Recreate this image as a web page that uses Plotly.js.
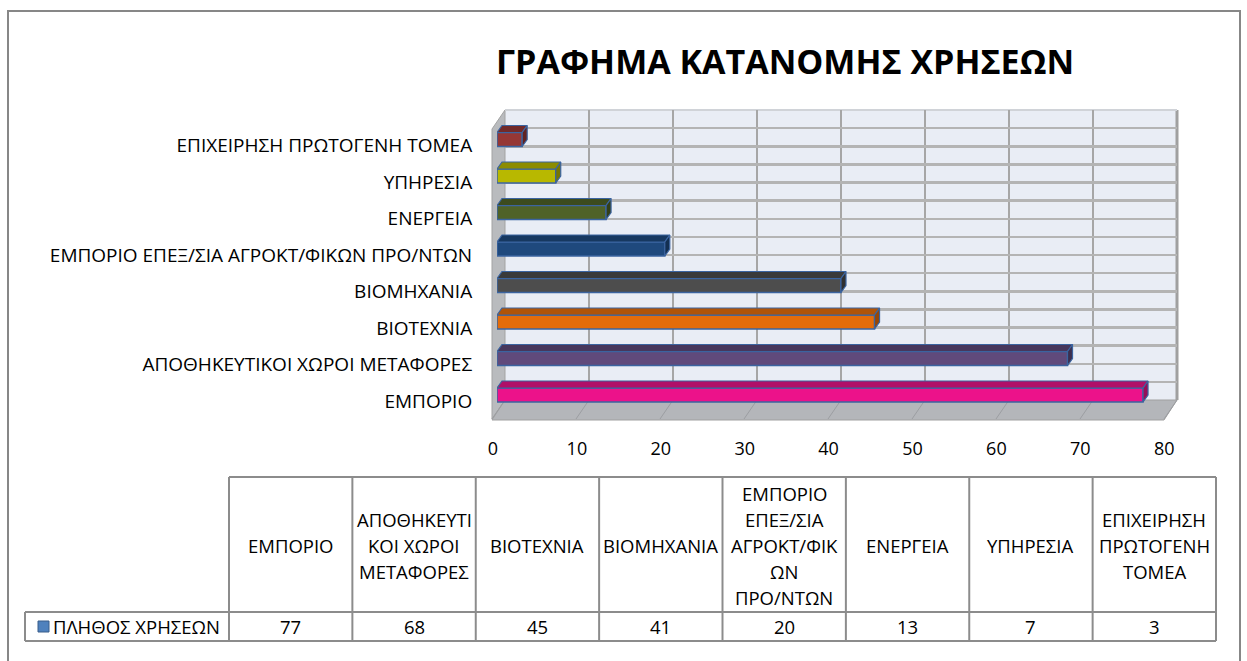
<!DOCTYPE html>
<html>
<head>
<meta charset="utf-8">
<script src="https://cdn.plot.ly/plotly-3.0.1.min.js"></script>
<style>html,body{margin:0;padding:0;background:#fff;}#chart{width:1247px;height:661px;}</style>
</head>
<body>
<div id="chart"></div>
<script>
// ---- data ----
const categories = ['ΕΜΠΟΡΙΟ','ΑΠΟΘΗΚΕΥΤΙΚΟΙ ΧΩΡΟΙ ΜΕΤΑΦΟΡΕΣ','ΒΙΟΤΕΧΝΙΑ','ΒΙΟΜΗΧΑΝΙΑ','ΕΜΠΟΡΙΟ ΕΠΕΞ/ΣΙΑ ΑΓΡΟΚΤ/ΦΙΚΩΝ ΠΡΟ/ΝΤΩΝ','ΕΝΕΡΓΕΙΑ','ΥΠΗΡΕΣΙΑ','ΕΠΙΧΕΙΡΗΣΗ ΠΡΩΤΟΓΕΝΗ ΤΟΜΕΑ'];
const values = [77, 68, 45, 41, 20, 13, 7, 3];
const tableHeaders = ['ΕΜΠΟΡΙΟ','ΑΠΟΘΗΚΕΥΤΙ<br>ΚΟΙ ΧΩΡΟΙ<br>ΜΕΤΑΦΟΡΕΣ','ΒΙΟΤΕΧΝΙΑ','ΒΙΟΜΗΧΑΝΙΑ','ΕΜΠΟΡΙΟ<br>ΕΠΕΞ/ΣΙΑ<br>ΑΓΡΟΚΤ/ΦΙΚ<br>ΩΝ<br>ΠΡΟ/ΝΤΩΝ','ΕΝΕΡΓΕΙΑ','ΥΠΗΡΕΣΙΑ','ΕΠΙΧΕΙΡΗΣΗ<br>ΠΡΩΤΟΓΕΝΗ<br>ΤΟΜΕΑ'];
const seriesName = 'ΠΛΗΘΟΣ ΧΡΗΣΕΩΝ';
const xTicks = [0, 10, 20, 30, 40, 50, 60, 70, 80];
const chartTitle = 'ΓΡΑΦΗΜΑ ΚΑΤΑΝΟΜΗΣ ΧΡΗΣΕΩΝ';

// ---- styles ----
const frontColors = ['#EC128A','#604A7B','#E46C0A','#4D4D4D','#1F497D','#4F6228','#B8B800','#953735'];
const topColors   = ['#B00F68','#47375C','#B05408','#3A3A3A','#173860','#3C4B1E','#8C8C00','#722A29'];
const sideColors  = ['#960D59','#3C2F4F','#964707','#303030','#132F51','#333F19','#777700','#612322'];
const outline = '#3B64A0';
const FONT = 'Open Sans, Liberation Sans, sans-serif';

const W = 1247, H = 661;
const px = v => v / W;
const py = v => 1 - v / H;

// geometry (pixels)
const wall = {l: 505, r: 1177, t: 110, b: 400};
const depth = {dx: -13, dy: 19};
const front0 = 497, unitPx = 8.39;
const catTop = 139.5, catBot = 395;
const catStep = (catBot - catTop) / (categories.length - 1);
const barPx = 14, faceDx = 5, faceDy = 7;

const idx = categories.map((_, i) => i);
const hw = barPx / catStep / 2;
const dxU = faceDx / unitPx;
const dyU = faceDy / catStep;

const traces = [];
// helper trace so the back-wall subplot (gridlines) is drawn
traces.push({type: 'scatter', mode: 'markers', x: [], y: [], xaxis: 'x', yaxis: 'y', hoverinfo: 'skip', showlegend: false});
traces.push({
  type: 'bar', orientation: 'h', x: values, y: idx, width: 2 * hw,
  xaxis: 'x2', yaxis: 'y2',
  marker: {color: frontColors, line: {color: outline, width: 1.5}},
  hoverinfo: 'skip', showlegend: false
});
values.forEach((v, i) => {
  traces.push({
    type: 'scatter', mode: 'lines', fill: 'toself', xaxis: 'x2', yaxis: 'y2',
    x: [0, v, v + dxU, dxU, 0],
    y: [i + hw, i + hw, i + hw + dyU, i + hw + dyU, i + hw],
    fillcolor: topColors[i], line: {color: outline, width: 1.2},
    hoverinfo: 'skip', showlegend: false
  });
  traces.push({
    type: 'scatter', mode: 'lines', fill: 'toself', xaxis: 'x2', yaxis: 'y2',
    x: [v, v + dxU, v + dxU, v, v],
    y: [i - hw, i - hw + dyU, i + hw + dyU, i + hw, i - hw],
    fillcolor: sideColors[i], line: {color: outline, width: 1.2},
    hoverinfo: 'skip', showlegend: false
  });
});

const shapes = [];
// outer border
shapes.push({type: 'rect', xref: 'paper', yref: 'paper', x0: px(8), x1: px(1240), y0: py(11), y1: py(700),
  line: {color: '#878787', width: 2}, layer: 'below'});
// back wall fill
shapes.push({type: 'rect', xref: 'paper', yref: 'paper', x0: px(wall.l), x1: px(wall.r), y0: py(wall.b), y1: py(wall.t),
  fillcolor: '#E9EDF5', line: {width: 0}, layer: 'below'});
// side wall
shapes.push({type: 'path', xref: 'paper', yref: 'paper', layer: 'below',
  path: `M${px(wall.l)},${py(wall.t)} L${px(wall.l)},${py(wall.b)} L${px(wall.l + depth.dx)},${py(wall.b + depth.dy)} L${px(wall.l + depth.dx)},${py(wall.t + depth.dy)} Z`,
  fillcolor: '#B9BBBE', line: {color: '#A3A3A3', width: 1}});
// floor
shapes.push({type: 'path', xref: 'paper', yref: 'paper', layer: 'below',
  path: `M${px(wall.l)},${py(wall.b)} L${px(wall.r)},${py(wall.b)} L${px(wall.r + depth.dx)},${py(wall.b + depth.dy + 1)} L${px(wall.l + depth.dx)},${py(wall.b + depth.dy + 1)} Z`,
  fillcolor: '#B4B6BA', line: {color: '#A0A0A0', width: 1}});
// slanted floor grid lines
xTicks.forEach((t, k) => {
  const bx = wall.l + (wall.r - wall.l) * k / (xTicks.length - 1);
  shapes.push({type: 'line', xref: 'paper', yref: 'paper', layer: 'below',
    x0: px(bx), y0: py(wall.b), x1: px(bx + depth.dx), y1: py(wall.b + depth.dy),
    line: {color: '#9C9EA2', width: 1}});
});
// wall edges
shapes.push({type: 'line', xref: 'paper', yref: 'paper', x0: px(wall.r), x1: px(wall.r), y0: py(wall.t), y1: py(wall.b),
  line: {color: '#A0A0A0', width: 3}, layer: 'below'});
shapes.push({type: 'line', xref: 'paper', yref: 'paper', x0: px(wall.l), x1: px(wall.r), y0: py(wall.t), y1: py(wall.t),
  line: {color: '#D0D3D8', width: 2}, layer: 'below'});

// ---- table ----
const tTop = 477, tMid = 612, tBot = 641;
const colL = 229, colW = (1216 - 229) / categories.length;
const tColor = '#8C8C8C';
const tRight = colL + colW * categories.length;
shapes.push({type: 'line', xref: 'paper', yref: 'paper', x0: px(colL), x1: px(tRight), y0: py(tTop), y1: py(tTop), line: {color: tColor, width: 2}});
shapes.push({type: 'line', xref: 'paper', yref: 'paper', x0: px(25), x1: px(tRight), y0: py(tMid), y1: py(tMid), line: {color: tColor, width: 2}});
shapes.push({type: 'line', xref: 'paper', yref: 'paper', x0: px(25), x1: px(tRight), y0: py(tBot), y1: py(tBot), line: {color: tColor, width: 2}});
shapes.push({type: 'line', xref: 'paper', yref: 'paper', x0: px(25), x1: px(25), y0: py(tMid), y1: py(tBot), line: {color: tColor, width: 2}});
for (let k = 0; k <= categories.length; k++) {
  shapes.push({type: 'line', xref: 'paper', yref: 'paper', x0: px(colL + colW * k), x1: px(colL + colW * k), y0: py(tTop), y1: py(tBot), line: {color: tColor, width: 2}});
}
// legend key
shapes.push({type: 'rect', xref: 'paper', yref: 'paper', x0: px(38), x1: px(49), y0: py(632), y1: py(621),
  fillcolor: '#4F81BD', line: {color: '#385D8A', width: 1}});

const annotations = [];
annotations.push({xref: 'paper', yref: 'paper', x: px(785), y: py(61), text: '<b>' + chartTitle + '</b>', showarrow: false,
  font: {family: FONT, size: 34, color: '#000'}, xanchor: 'center', yanchor: 'middle'});
const lineGap = 26, headMid = (tTop + tMid) / 2 + 1;
tableHeaders.forEach((h, k) => {
  const lines = h.split('<br>');
  lines.forEach((ln, j) => {
    annotations.push({xref: 'paper', yref: 'paper', x: px(colL + colW * (k + 0.5)), y: py(headMid + (j - (lines.length - 1) / 2) * lineGap),
      text: ln, showarrow: false, font: {family: FONT, size: 18.5, color: '#000'}, xanchor: 'center', yanchor: 'middle'});
  });
  annotations.push({xref: 'paper', yref: 'paper', x: px(colL + colW * (k + 0.5)), y: py((tMid + tBot) / 2),
    text: String(values[k]), showarrow: false, font: {family: FONT, size: 18.5, color: '#000'}, xanchor: 'center', yanchor: 'middle'});
});
annotations.push({xref: 'paper', yref: 'paper', x: px(51), y: py((tMid + tBot) / 2), text: seriesName, showarrow: false,
  font: {family: FONT, size: 18.5, color: '#000'}, xanchor: 'left', yanchor: 'middle'});

const layout = {
  width: W, height: H, margin: {l: 0, r: 0, t: 0, b: 0},
  paper_bgcolor: '#fff', plot_bgcolor: 'rgba(0,0,0,0)',
  showlegend: false,
  font: {family: FONT, color: '#000'},
  xaxis: {domain: [px(wall.l), px(wall.r)], range: [0, 80], dtick: 10, showgrid: true, gridcolor: '#A6A6A6', gridwidth: 2,
    showticklabels: false, zeroline: false, showline: false, ticks: '', anchor: 'y', fixedrange: true},
  yaxis: {domain: [py(wall.b), py(wall.t)], range: [0, 16], dtick: 1, showgrid: true, gridcolor: '#B4B4B4', gridwidth: 2.5,
    showticklabels: false, zeroline: false, showline: false, ticks: '', anchor: 'x', fixedrange: true},
  xaxis2: {domain: [px(front0), px(front0 + 80 * unitPx)], range: [0, 80], anchor: 'y2', showgrid: false, zeroline: false,
    showline: false, tickvals: xTicks, ticktext: xTicks.map(String), ticks: 'outside', ticklen: 19, tickcolor: 'rgba(0,0,0,0)',
    ticklabelshift: -4, tickfont: {family: FONT, size: 18, color: '#000'}, fixedrange: true},
  yaxis2: {domain: [py(catBot + catStep / 2), py(catTop - catStep / 2)], range: [-0.5, categories.length - 0.5], anchor: 'x2',
    showgrid: false, zeroline: false, showline: false,
    tickvals: idx, ticktext: categories, ticks: 'outside', ticklen: 20, tickcolor: 'rgba(0,0,0,0)',
    ticklabelshift: 6, tickfont: {family: FONT, size: 19, color: '#000'}, fixedrange: true},
  shapes: shapes, annotations: annotations
};

Plotly.newPlot('chart', traces, layout, {displayModeBar: false, staticPlot: true});
</script>
</body>
</html>
